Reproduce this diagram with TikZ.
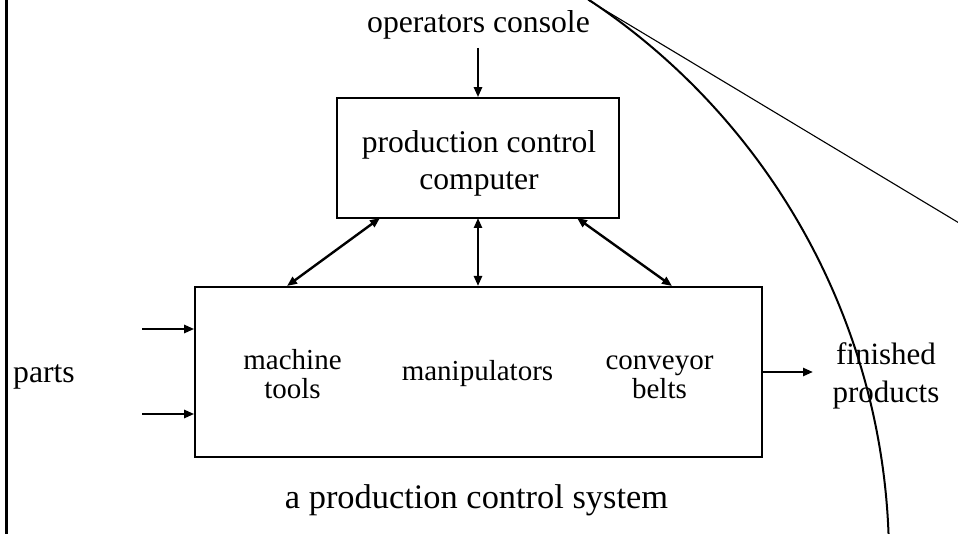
\documentclass[tikz,border=0pt]{standalone}
\usepackage{fontspec}
\setmainfont{Liberation Serif}
\usetikzlibrary{arrows.meta}
\begin{document}
\begin{tikzpicture}[x=1pt,y=1pt,
  boxnode/.style={draw,line width=1.6pt,inner sep=0pt},
  lbl/.style={inner sep=0pt,anchor=base,align=center},
  conn/.style={line width=2.4pt,-{Triangle[length=10pt,width=8pt]}},
  biconn/.style={line width=2.4pt,{Triangle[length=10pt,width=8pt]}-{Triangle[length=10pt,width=8pt]}}]
\useasboundingbox (0,0) rectangle (958,533);
\begin{scope}
\clip (0,0) rectangle (958,533);
% left border
\draw[line width=3pt] (6,-5) -- (6,540);
% arc and thin line
\draw[line width=2pt] (218,-26) ++(56.5:671) arc (56.5:-3:671);
\draw[line width=1.1pt] (588,533) -- (1000,285.4);
\end{scope}
% boxes
\node[boxnode,minimum width=282pt,minimum height=120pt] (pcc) at (478,375) {};
\node[boxnode,minimum width=567pt,minimum height=170pt] (sys) at (478.5,161) {};
% labels (multi-line labels are anchored at the baseline of their last line)
\node[lbl,font=\fontsize{31.7}{37}\selectfont] (console) at (478.5,500) {operators console};
\node[lbl,font=\fontsize{31.6}{37}\selectfont] (pcctext) at (479,343) {production control\\computer};
\node[lbl,font=\fontsize{29}{28}\selectfont] (mt) at (292.5,135) {machine\\tools};
\node[lbl,font=\fontsize{29}{28}\selectfont] (man) at (477.5,153) {manipulators};
\node[lbl,font=\fontsize{29}{28}\selectfont] (cb) at (659.5,135) {conveyor\\belts};
\node[lbl,font=\fontsize{31.7}{37}\selectfont] (parts) at (44,150) {parts};
\node[lbl,font=\fontsize{31}{37}\selectfont] (fin) at (886,131) {finished\\products};
\node[lbl,font=\fontsize{34.4}{40}\selectfont] (cap) at (476.5,25) {a production control system};
% coordinates
\coordinate (c1) at (478,485);
\coordinate (in1) at (142,204);
\coordinate (in2) at (142,119);
\coordinate (out) at (813,161);
\coordinate (pa) at (380,315);
\coordinate (pb) at (478,315);
\coordinate (pc) at (577,315);
\coordinate (sa) at (287,247);
\coordinate (sb) at (478,247);
\coordinate (sc) at (672,247);
% connectors
\draw[conn] (c1) -- (c1 |- pcc.north);
\draw[conn] (in1) -- (in1 -| sys.west);
\draw[conn] (in2) -- (in2 -| sys.west);
\draw[conn] (out -| sys.east) -- (out);
\draw[biconn] (sa) -- (pa);
\draw[biconn] (sb) -- (pb);
\draw[biconn] (sc) -- (pc);
\end{tikzpicture}
\end{document}
